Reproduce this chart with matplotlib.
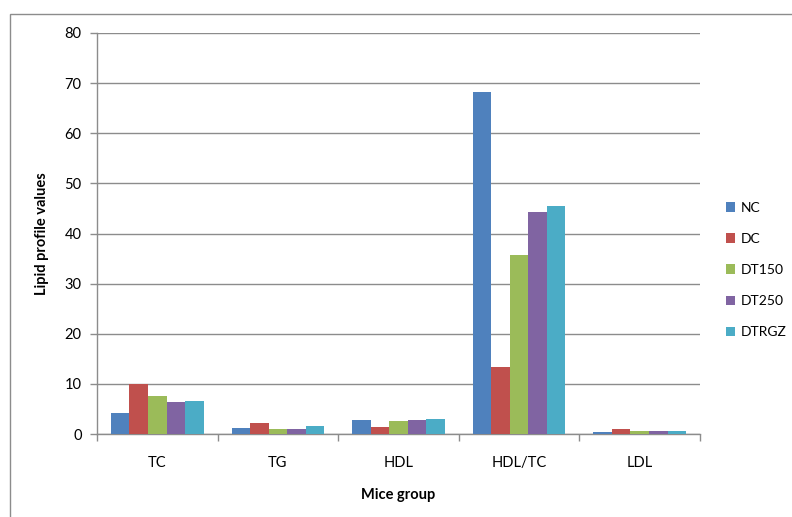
import numpy as np
import matplotlib.pyplot as plt
from matplotlib.patches import Rectangle

plt.rcParams['font.family'] = ['Lato', 'DejaVu Sans']

# Lipid profile per mice group
categories = ['TC', 'TG', 'HDL', 'HDL/TC', 'LDL']
groups = ['NC', 'DC', 'DT150', 'DT250', 'DTRGZ']
nc = [4.25, 1.2, 2.8, 68.2, 0.3]
dc = [9.9, 2.2, 1.4, 13.3, 0.9]
dt150 = [7.5, 0.9, 2.6, 35.7, 0.5]
dt250 = [6.3, 0.9, 2.8, 44.3, 0.5]
dtrgz = [6.6, 1.65, 3.05, 45.4, 0.5]
series = [nc, dc, dt150, dt250, dtrgz]
colors = ['#4F81BD', '#C0504D', '#9BBB59', '#8064A2', '#4BACC6']

W, H = 792, 517
fig = plt.figure(figsize=(W / 100, H / 100), dpi=100)
ax = fig.add_axes([97 / W, 1 - 434 / H, (700 - 97) / W, (434 - 33) / H])

# outer chart frame
fig.patches.append(Rectangle((10 / W, -0.1), 1.2, 1 - 14 / H + 0.1,
                             transform=fig.transFigure, fill=False,
                             edgecolor='#8c8c8c', linewidth=1.0))

x = np.arange(len(categories))
bw = 1 / 6.5
for i, (vals, c, name) in enumerate(zip(series, colors, groups)):
    ax.bar(x + (i - 2) * bw, vals, width=bw, color=c, label=name,
           linewidth=0, zorder=3)

ax.set_xlim(-0.5, len(categories) - 0.5)
ax.set_ylim(0, 80)
ax.set_yticks(np.arange(0, 81, 10))
ax.yaxis.grid(True, color='#8c8c8c', linewidth=1.0, zorder=0)
ax.set_axisbelow(True)

ax.set_xticks(x)
ax.set_xticklabels(categories, fontsize=10.5)
ax.set_xticks(np.arange(-0.5, len(categories)), minor=True)
ax.tick_params(axis='x', which='major', length=0, pad=16)
ax.tick_params(axis='x', which='minor', length=5, color='#8c8c8c', width=1)
ax.tick_params(axis='y', length=5, color='#8c8c8c', width=1, labelsize=10.5, pad=6)

for s in ['top', 'right']:
    ax.spines[s].set_visible(False)
for s in ['left', 'bottom']:
    ax.spines[s].set_color('#8c8c8c')
    ax.spines[s].set_linewidth(1.0)

ax.set_ylabel('Lipid profile values', fontsize=10.5, fontweight='bold', labelpad=11)
ax.set_xlabel('Mice group', fontsize=10.5, fontweight='bold', labelpad=13)

ax.legend(loc='center left', bbox_to_anchor=(716 / W, 1 - 270 / H),
          bbox_transform=fig.transFigure, frameon=False, fontsize=10,
          handlelength=0.65, handleheight=0.65, handletextpad=0.45,
          labelspacing=1.37, borderpad=0.2)

fig.savefig('out.png', dpi=100)
